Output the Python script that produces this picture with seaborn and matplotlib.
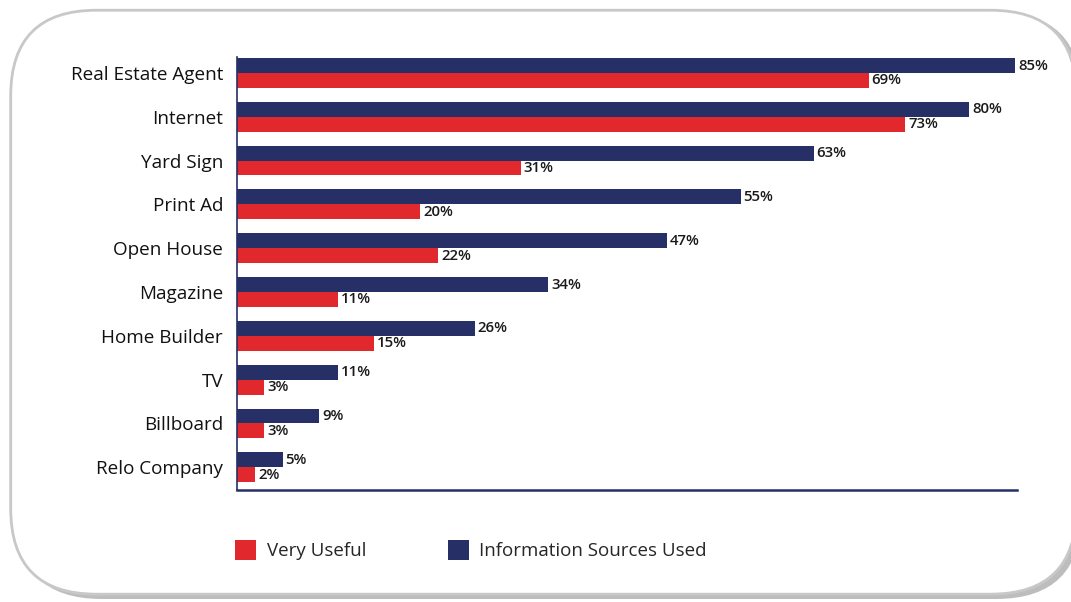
import matplotlib
matplotlib.use("Agg")
import matplotlib.pyplot as plt
import seaborn as sns
import pandas as pd
from matplotlib.patches import FancyBboxPatch, Patch

categories = ["Real Estate Agent", "Internet", "Yard Sign", "Print Ad", "Open House",
              "Magazine", "Home Builder", "TV", "Billboard", "Relo Company"]
sources_used = [85, 80, 63, 55, 47, 34, 26, 11, 9, 5]
very_useful = [69, 73, 31, 20, 22, 11, 15, 3, 3, 2]
series_names = ["Information Sources Used", "Very Useful"]

NAVY = "#262f66"
RED = "#e1282d"

df = pd.DataFrame({
    "category": categories * 2,
    "value": sources_used + very_useful,
    "series": [series_names[0]] * len(categories) + [series_names[1]] * len(categories),
})

sns.set_style("white")
plt.rcParams['font.family'] = ['Open Sans', 'DejaVu Sans']

fig = plt.figure(figsize=(10.71, 6.02), dpi=100)
fig.patch.set_facecolor("white")

# rounded frame with shadow
shadow = FancyBboxPatch((0.015, 0.005), 0.995, 0.975, boxstyle="round,pad=0,rounding_size=0.08",
                        transform=fig.transFigure, facecolor="#bdbdbd", edgecolor="none",
                        mutation_aspect=1071/602, zorder=-20)
frame = FancyBboxPatch((0.010, 0.013), 0.995, 0.970, boxstyle="round,pad=0,rounding_size=0.08",
                       transform=fig.transFigure, facecolor="white", edgecolor="#c8c8c8",
                       linewidth=2, mutation_aspect=1071/602, zorder=-10)
fig.patches.extend([shadow, frame])

ax = fig.add_axes([0.2213, 0.186, 0.7283, 0.719])
ax.set_facecolor("none")
sns.barplot(data=df, y="category", x="value", hue="series", hue_order=series_names,
            order=categories, palette=[NAVY, RED], orient="h", width=0.68,
            saturation=1, linewidth=0, ax=ax, legend=False)

ax.set_xlim(0, 85.2)
ax.set_ylim(len(categories) - 0.5 + 0.02, -0.36)
ax.set_xlabel("")
ax.set_ylabel("")
ax.set_xticks([])
ax.tick_params(axis="y", length=0, pad=10, labelsize=13.6, labelcolor="#111111")

for c in ax.containers:
    labels = [f"{int(round(b.get_width()))}%" for b in c]
    ax.bar_label(c, labels=labels, padding=2, fontsize=10.8, fontweight="semibold", color="#1a1a1a")

for s in ["top", "right"]:
    ax.spines[s].set_visible(False)
ax.spines["left"].set_color(NAVY)
ax.spines["left"].set_linewidth(1.2)
ax.spines["bottom"].set_color(NAVY)
ax.spines["bottom"].set_linewidth(1.8)

handles = [Patch(facecolor=RED, edgecolor="none", label="Very Useful"),
           Patch(facecolor=NAVY, edgecolor="none", label="Information Sources Used")]
fig.legend(handles=handles, loc="center left", bbox_to_anchor=(0.204, 0.086), ncol=2,
           frameon=False, fontsize=13.5, handlelength=1.12, handleheight=1.3,
           columnspacing=4.35, handletextpad=0.55)

fig.savefig("out.png", dpi=100, facecolor="white")
